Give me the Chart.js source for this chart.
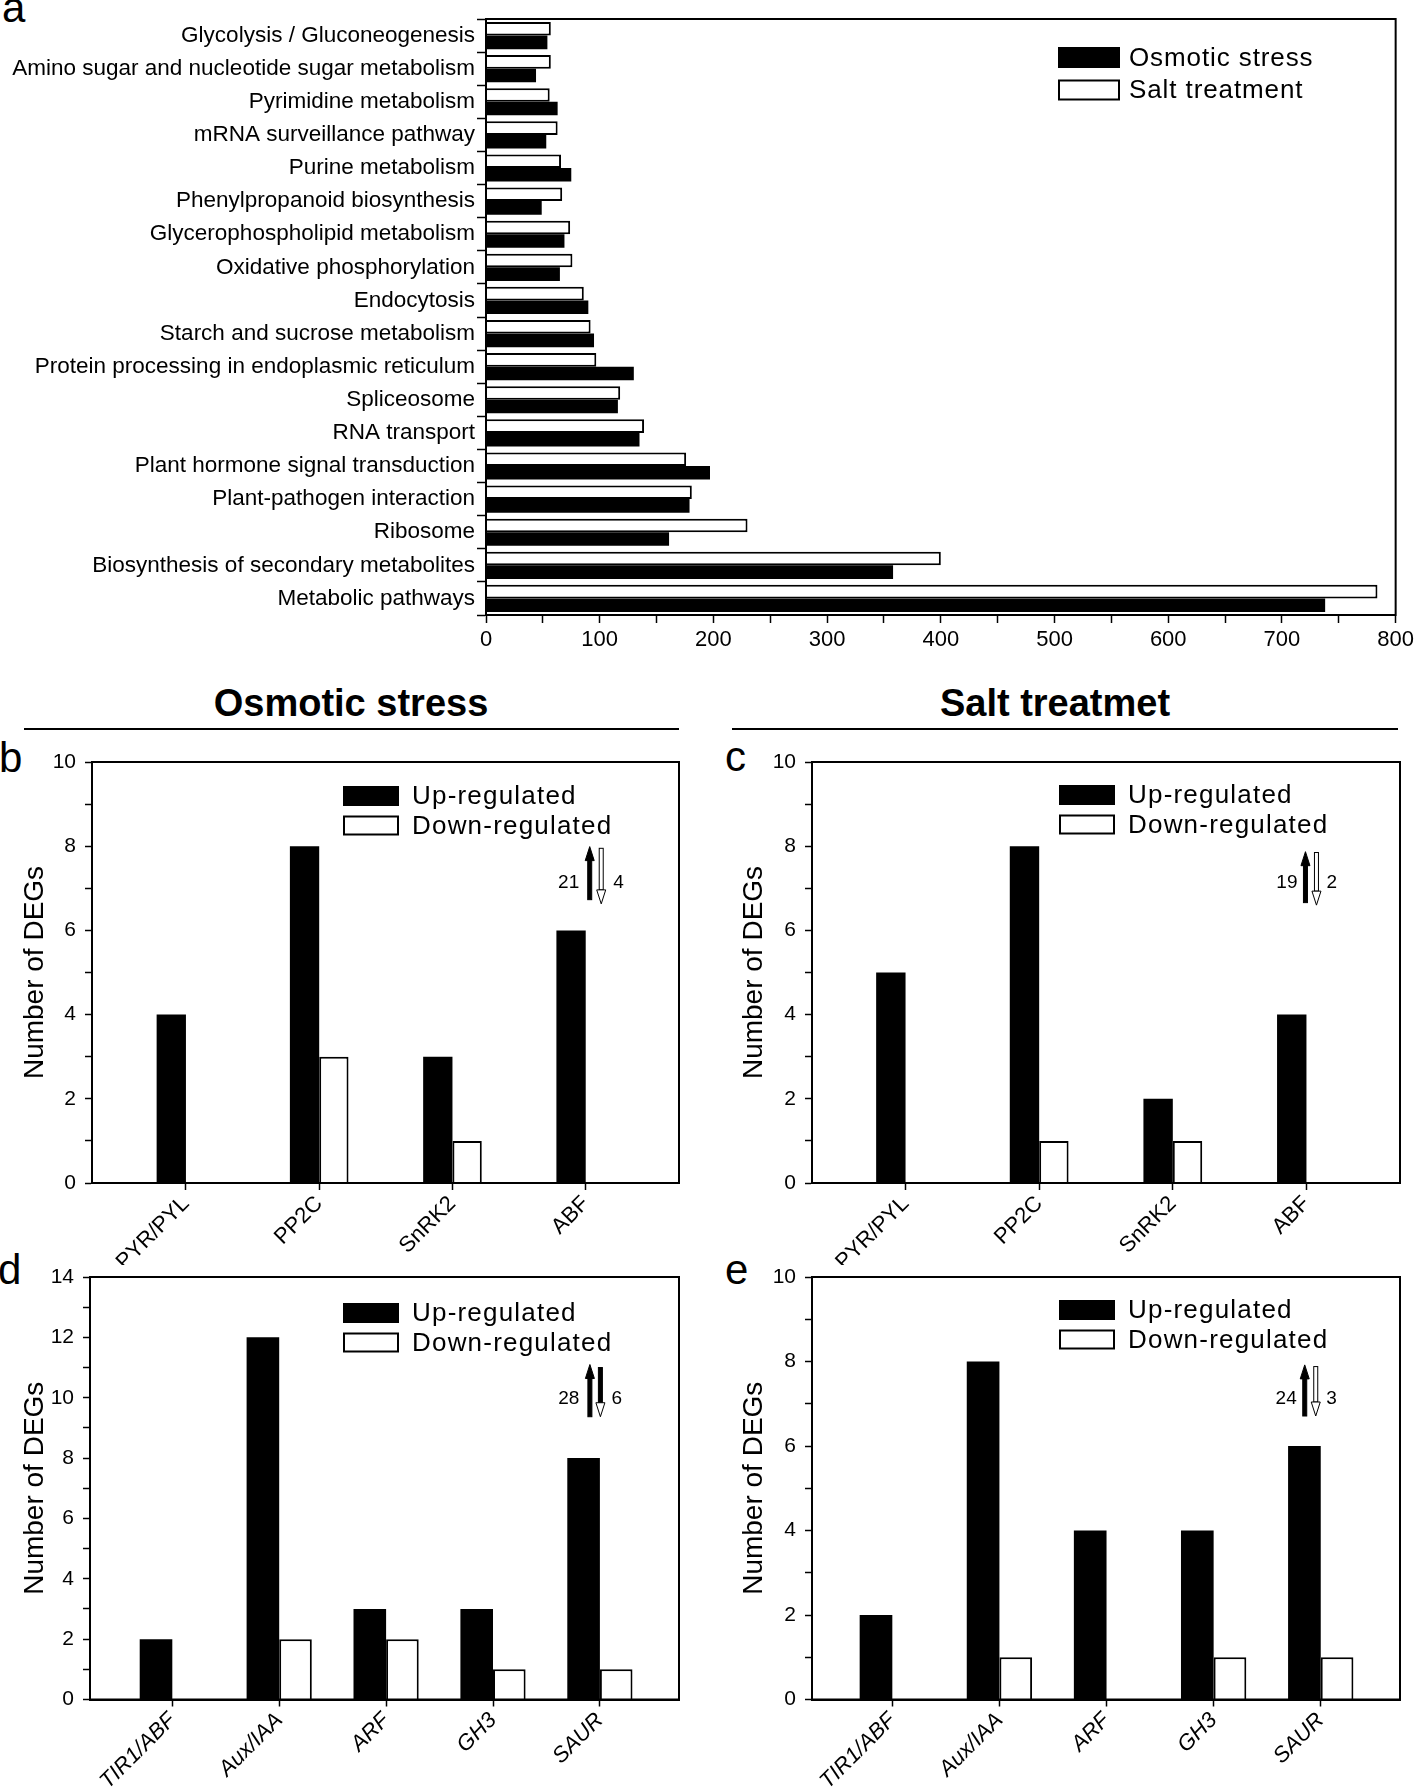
<!DOCTYPE html>
<html>
<head>
<meta charset="utf-8">
<script src="https://cdn.jsdelivr.net/npm/chart.js@4.4.1/dist/chart.umd.min.js"></script>
<style>
  body { margin: 0; background: #fff; width: 1418px; height: 1790px; position: relative; overflow: hidden;
         font-family: "Liberation Sans", Arial, sans-serif; color: #000; }
  canvas { position: absolute; }
  .tag { position: absolute; font-size: 42px; line-height: 1; }
  .head { position: absolute; font-size: 38px; font-weight: bold; line-height: 1; transform: translateX(-50%); white-space: nowrap; }
  .rule { position: absolute; height: 2px; background: #000; }
</style>
</head>
<body>
<div class="tag" style="left:2px;top:-13px">a</div>
<div class="head" style="left:351px;top:684px">Osmotic stress</div>
<div class="head" style="left:1055px;top:684px">Salt treatmet</div>
<div class="rule" style="left:24px;top:728px;width:655px"></div>
<div class="rule" style="left:732px;top:728px;width:666px"></div>
<div class="tag" style="left:-1px;top:737px">b</div>
<div class="tag" style="left:725px;top:736px">c</div>
<div class="tag" style="left:-2px;top:1249px">d</div>
<div class="tag" style="left:725px;top:1249px">e</div>

<canvas id="chartA" width="1418" height="680" style="left:0;top:0"></canvas>
<canvas id="chartB" width="709" height="525" style="left:0;top:740px"></canvas>
<canvas id="chartC" width="709" height="525" style="left:709px;top:740px"></canvas>
<canvas id="chartD" width="709" height="535" style="left:0;top:1255px"></canvas>
<canvas id="chartE" width="709" height="535" style="left:709px;top:1255px"></canvas>

<script>
// KEGG pathways (panel a), top to bottom
const pathways = [
  'Glycolysis / Gluconeogenesis',
  'Amino sugar and nucleotide sugar metabolism',
  'Pyrimidine metabolism',
  'mRNA surveillance pathway',
  'Purine metabolism',
  'Phenylpropanoid biosynthesis',
  'Glycerophospholipid metabolism',
  'Oxidative phosphorylation',
  'Endocytosis',
  'Starch and sucrose metabolism',
  'Protein processing in endoplasmic reticulum',
  'Spliceosome',
  'RNA transport',
  'Plant hormone signal transduction',
  'Plant-pathogen interaction',
  'Ribosome',
  'Biosynthesis of secondary metabolites',
  'Metabolic pathways'
];
const osmoticCounts = [54, 44, 63, 53, 75, 49, 69, 65, 90, 95, 130, 116, 135, 197, 179, 161, 358, 738];
const saltCounts    = [57, 57, 56, 63, 66, 67, 74, 76, 86, 92, 97, 118, 139, 176, 181, 230, 400, 784];

// ABA signalling genes (panels b, c)
const abaGenes = ['PYR/PYL', 'PP2C', 'SnRK2', 'ABF'];
const osmoticAbaUp   = [4, 8, 3, 6];
const osmoticAbaDown = [0, 3, 1, 0];
const saltAbaUp      = [5, 8, 2, 4];
const saltAbaDown    = [0, 1, 1, 0];

// auxin signalling genes (panels d, e)
const auxinGenes = ['TIR1/ABF', 'Aux/IAA', 'ARF', 'GH3', 'SAUR'];
const osmoticAuxUp   = [2, 12, 3, 3, 8];
const osmoticAuxDown = [0, 2, 2, 1, 1];
const saltAuxUp      = [2, 8, 4, 4, 6];
const saltAuxDown    = [0, 1, 0, 1, 1];

const FONT = '"Liberation Sans", Arial, sans-serif';
Chart.defaults.font.family = FONT;
Chart.defaults.color = '#000';

const sum = arr => arr.reduce((a, b) => a + b, 0);

// box around the plotting area
const framePlugin = {
  id: 'frame',
  afterDatasetsDraw(chart) {
    const { ctx, chartArea: a } = chart;
    ctx.save();
    ctx.strokeStyle = '#000';
    ctx.lineWidth = 2;
    ctx.strokeRect(a.left, a.top, a.right - a.left, a.bottom - a.top);
    ctx.restore();
  }
};

// legend drawn inside the plot, like the original figure
const keyPlugin = {
  id: 'key',
  afterDraw(chart, args, o) {
    const { ctx, chartArea: a } = chart;
    ctx.save();
    ctx.font = o.size + 'px ' + FONT;
    ctx.letterSpacing = o.spacing + 'px';
    ctx.textBaseline = 'middle';
    o.order.forEach((di, i) => {
      const ds = chart.data.datasets[di];
      const x = a.left + o.dx, y = a.top + o.dy + i * o.gap;
      ctx.fillStyle = ds.backgroundColor;
      ctx.fillRect(x, y, o.w, o.h);
      ctx.strokeStyle = '#000';
      ctx.lineWidth = 2;
      ctx.strokeRect(x, y, o.w, o.h);
      ctx.fillStyle = '#000';
      ctx.fillText(ds.label, x + o.w + o.textGap, y + o.h / 2 + 1);
    });
    ctx.restore();
  }
};

function drawArrow(ctx, x, y0, y1, up, shaftFill, headFill) {
  const sw = 4, hw = 9, hh = 14;
  ctx.lineWidth = 1;
  ctx.strokeStyle = '#000';
  const tip = up ? y0 : y1;
  const base = up ? y0 + hh : y1 - hh;
  const tail = up ? y1 : y0;
  ctx.fillStyle = shaftFill;
  ctx.fillRect(x - sw / 2, Math.min(base, tail), sw, Math.abs(tail - base));
  ctx.strokeRect(x - sw / 2, Math.min(base, tail), sw, Math.abs(tail - base));
  ctx.beginPath();
  ctx.moveTo(x, tip);
  ctx.lineTo(x - hw / 2, base);
  ctx.lineTo(x + hw / 2, base);
  ctx.closePath();
  ctx.fillStyle = headFill;
  ctx.fill();
  ctx.stroke();
}

// "21 ↑↓ 4" totals of up / down regulated genes
const notePlugin = {
  id: 'note',
  afterDraw(chart, args, o) {
    if (o.at === undefined) return;
    const { ctx, scales: { x, y } } = chart;
    const cx = x.getPixelForValue(o.at);
    const upTotal = sum(chart.data.datasets[0].data.map(p => p.y));
    const downTotal = sum(chart.data.datasets[1].data.map(p => p.y));
    ctx.save();
    drawArrow(ctx, cx + o.upDx, y.getPixelForValue(o.up[1]), y.getPixelForValue(o.up[0]), true, '#000', '#000');
    drawArrow(ctx, cx + o.downDx, y.getPixelForValue(o.down[1]), y.getPixelForValue(o.down[0]), false,
      o.downSolid ? '#000' : '#fff', '#fff');
    ctx.font = '19px ' + FONT;
    ctx.fillStyle = '#000';
    ctx.textBaseline = 'middle';
    const ty = y.getPixelForValue(o.textY);
    ctx.textAlign = 'right';
    ctx.fillText(String(upTotal), cx + o.leftDx, ty);
    ctx.textAlign = 'left';
    ctx.fillText(String(downTotal), cx + o.rightDx, ty);
    ctx.restore();
  }
};

// panel a
new Chart(document.getElementById('chartA'), {
  type: 'bar',
  data: {
    labels: pathways,
    datasets: [
      { label: 'Salt treatment', data: saltCounts, backgroundColor: '#fff', borderColor: '#000', borderWidth: 2 },
      { label: 'Osmotic stress', data: osmoticCounts, backgroundColor: '#000', borderColor: '#000', borderWidth: 0 }
    ]
  },
  plugins: [framePlugin, keyPlugin],
  options: {
    indexAxis: 'y',
    responsive: false,
    animation: false,
    layout: { padding: { top: 19, right: 20, left: 0, bottom: 0 } },
    datasets: { bar: { barPercentage: 1, categoryPercentage: 0.82 } },
    plugins: {
      legend: { display: false },
      tooltip: { enabled: false },
      key: { order: [1, 0], dx: 573, dy: 29, w: 60, h: 19, gap: 32.5, textGap: 10, size: 26, spacing: 0.9 }
    },
    scales: {
      x: {
        type: 'linear', min: 0, max: 800,
        ticks: { stepSize: 50, autoSkip: false, font: { size: 22 }, padding: 4,
                 callback: v => (v % 100 === 0 ? v : '') },
        grid: { drawOnChartArea: false, tickLength: 8, tickColor: '#000', tickWidth: 1.5 },
        border: { color: '#000', width: 2 },
        afterFit: s => { s.height = 65; }
      },
      y: {
        type: 'category', offset: true,
        ticks: { autoSkip: false, font: { size: 22.5 }, padding: 2 },
        grid: { offset: true, drawOnChartArea: false, tickLength: 9, tickColor: '#000', tickWidth: 1.5 },
        border: { color: '#000', width: 2 },
        afterFit: s => { s.width = 486; }
      }
    }
  }
});

function genePanel(id, genes, up, down, p) {
  const pts = arr => arr.map((v, i) => ({ x: i, y: v }));
  return new Chart(document.getElementById(id), {
    type: 'bar',
    data: {
      datasets: [
        { label: 'Up-regulated', data: pts(up), backgroundColor: '#000', borderColor: '#000', borderWidth: 0 },
        { label: 'Down-regulated', data: pts(down), backgroundColor: '#fff', borderColor: '#000', borderWidth: 2 }
      ]
    },
    plugins: [framePlugin, keyPlugin, notePlugin],
    options: {
      responsive: false,
      animation: false,
      layout: { padding: { top: 22, right: p.right, left: 0, bottom: 0 } },
      datasets: { bar: { barPercentage: 1, categoryPercentage: p.group } },
      plugins: {
        legend: { display: false },
        tooltip: { enabled: false },
        key: { order: [0, 1], dx: p.keyDx, dy: p.keyDy, w: 54, h: 18, gap: 29.5, textGap: 14, size: 26, spacing: 1.2 },
        note: p.note
      },
      scales: {
        x: {
          type: 'linear', min: p.xMin, max: p.xMax, offset: false,
          afterBuildTicks: s => { s.ticks = genes.map((g, i) => ({ value: i })); },
          ticks: { autoSkip: false, maxRotation: 45, minRotation: 45,
                   font: { size: 22, style: p.italic ? 'italic' : 'normal' }, padding: 1,
                   callback: v => (genes[v] !== undefined ? genes[v] : '') },
          grid: { offset: false, drawOnChartArea: false, tickLength: 7, tickColor: '#000', tickWidth: 1.5 },
          border: { color: '#000', width: 2 },
          afterFit: s => { s.height = p.xHeight; }
        },
        y: {
          min: 0, max: p.yMax,
          ticks: { stepSize: 1, autoSkip: false, font: { size: 21 }, padding: 9,
                   callback: v => (v % 2 === 0 ? v : '') },
          grid: { drawOnChartArea: false, tickLength: 7, tickColor: '#000', tickWidth: 1.5 },
          border: { color: '#000', width: 2 },
          title: { display: true, text: 'Number of DEGs', font: { size: 28 }, padding: { top: p.titlePad, bottom: 0 } },
          afterFit: s => { s.width = p.left; }
        }
      }
    }
  });
}

genePanel('chartB', abaGenes, osmoticAbaUp, osmoticAbaDown, {
  left: 92, right: 30, xHeight: 82, yMax: 10, xMin: -0.705, xMax: 3.7, group: 0.44,
  keyDx: 252, keyDy: 25, titlePad: 18, italic: false,
  note: { at: 3, up: [6.73, 7.99], down: [6.63, 7.95], upDx: 4, downDx: 15.5, textY: 7.12, leftDx: -6.5, rightDx: 27.5, downSolid: false }
});
genePanel('chartC', abaGenes, saltAbaUp, saltAbaDown, {
  left: 103, right: 18, xHeight: 82, yMax: 10, xMin: -0.7, xMax: 3.7, group: 0.44,
  keyDx: 248, keyDy: 24, titlePad: 28, italic: false,
  note: { at: 3, up: [6.66, 7.87], down: [6.6, 7.85], upDx: -1, downDx: 10, textY: 7.12, leftDx: -9, rightDx: 20, downSolid: false }
});
genePanel('chartD', auxinGenes, osmoticAuxUp, osmoticAuxDown, {
  left: 90, right: 30, xHeight: 90.5, yMax: 14, xMin: -0.77, xMax: 4.74, group: 0.61,
  keyDx: 254, keyDy: 27, titlePad: 18, italic: true,
  note: { at: 4, up: [9.37, 11.1], down: [9.37, 11.0], upDx: -10, downDx: 0.5, textY: 9.98, leftDx: -20.5, rightDx: 11.5, downSolid: true }
});
genePanel('chartE', auxinGenes, saltAuxUp, saltAuxDown, {
  left: 103, right: 18, xHeight: 90.5, yMax: 10, xMin: -0.75, xMax: 4.74, group: 0.61,
  keyDx: 248, keyDy: 24, titlePad: 28, italic: true,
  note: { at: 4, up: [6.71, 7.92], down: [6.71, 7.88], upDx: -16, downDx: -5, textY: 7.12, leftDx: -24, rightDx: 5.6, downSolid: false }
});
</script>
</body>
</html>
